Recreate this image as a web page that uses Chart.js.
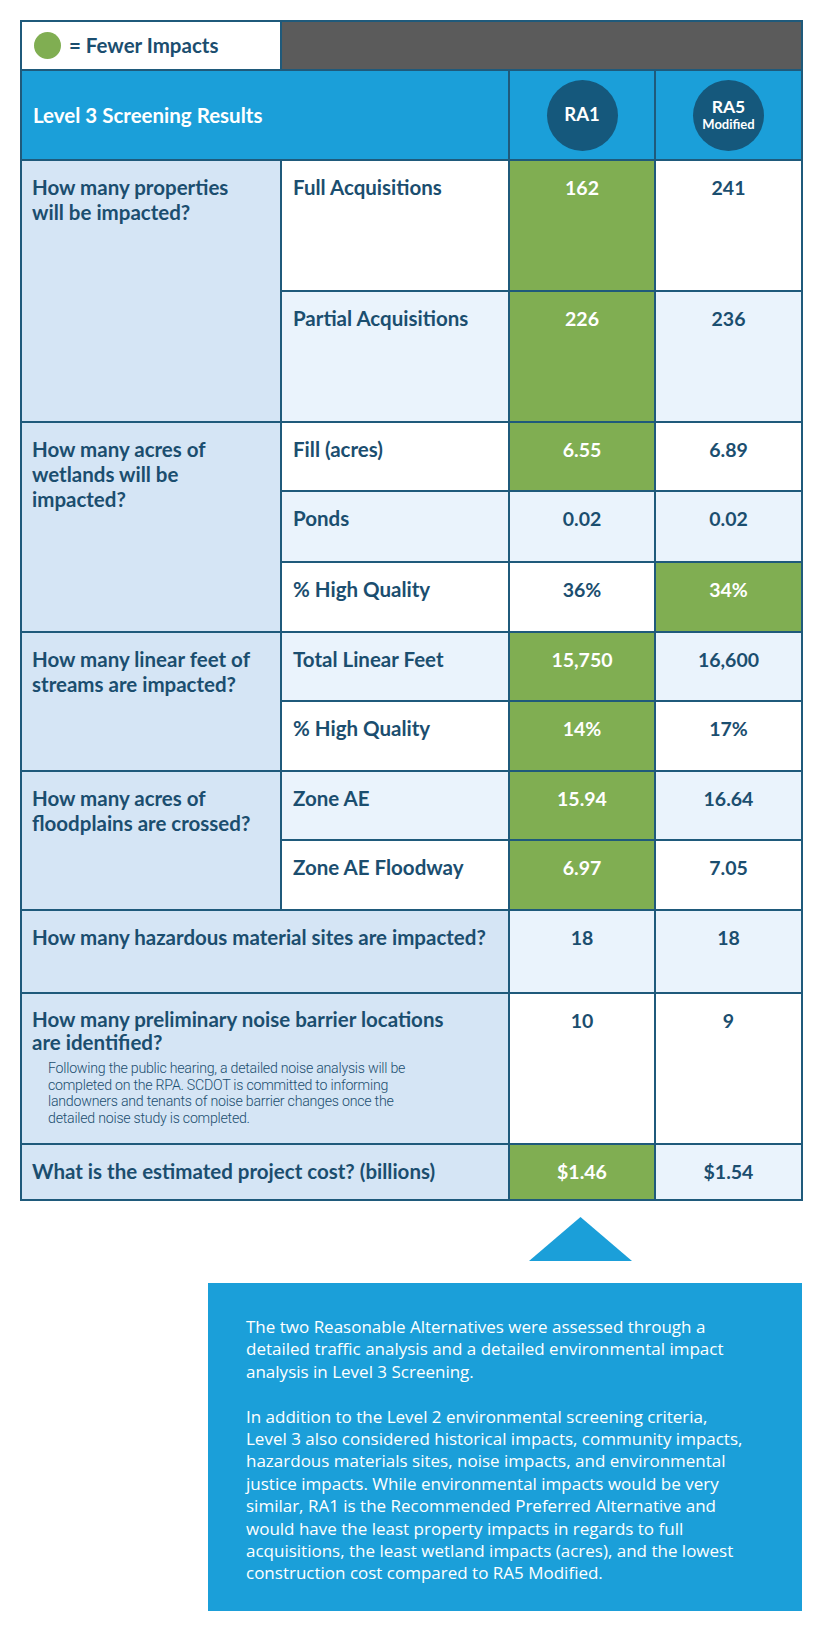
<!DOCTYPE html>
<html>
<head>
<meta charset="utf-8">
<script src="https://cdn.jsdelivr.net/npm/chart.js@4.4.1/dist/chart.umd.min.js"></script>
<style>
  html, body { margin: 0; padding: 0; background: #ffffff; }
  body { width: 821px; height: 1641px; position: relative; overflow: hidden; font-family: Lato, "Open Sans", sans-serif; color: #1b4e6f; }
  #grid {
    position: absolute; left: 20px; top: 20px; width: 783px;
    box-sizing: border-box; padding: 2px; background: #1f5a7b;
    display: grid; gap: 2px;
    grid-template-columns: 258px 226px 144px 145px;
    grid-template-rows: 47px 88px 129px 129px 67px 69px 68px 67px 68px 67px 68px 81px 149px 54px;
  }
  .cell { box-sizing: border-box; font-weight: 700; font-size: 20.5px; line-height: 25px; white-space: pre-line; }
  .q { background: #d5e5f5; padding: 14px 4px 0 10px; }
  .crit { padding: 14px 4px 0 11px; }
  .val { text-align: center; padding-top: 14px; font-size: 19.5px; }
  .w { background: #ffffff; }
  .l { background: #eaf3fc; }
  .g { background: #80ae52; color: #ffffff; }
  .note { font-family: Roboto, sans-serif; font-weight: 300; font-size: 14.2px; line-height: 16.7px; color: #1b4e6f; padding: 6px 0 0 16px; letter-spacing: -0.25px; white-space: pre-line; }
  .hdr { background: #1b9fd9; color: #fff; display: flex; align-items: center; justify-content: center; }
  .circle { width: 71px; height: 71px; border-radius: 50%; background: #15587c; color: #fff; display: flex; flex-direction: column; align-items: center; justify-content: center; line-height: 1.05; }
  #box { position: absolute; left: 208px; top: 1283px; width: 594px; height: 328px; background: #1b9fd9; color: #fff; box-sizing: border-box; padding: 33px 0 0 38px; font-family: "Open Sans", sans-serif; font-size: 17px; line-height: 22.4px; white-space: pre-line; }
  #box p { margin: 0 0 22.4px 0; }
  #tri { position: absolute; left: 529px; top: 1217px; width: 103px; height: 44px; }
</style>
</head>
<body>
<div id="grid"></div>
<canvas id="tri" width="103" height="44"></canvas>
<div id="box"></div>
<script>
// ---- data ----
const legendText = "= Fewer Impacts";
const tableTitle = "Level 3 Screening Results";
const alternatives = ["RA1", "RA5"];
const alternativeSubLabels = ["", "Modified"];
const questions = [
  "How many properties\nwill be impacted?",
  "How many acres of\nwetlands will be\nimpacted?",
  "How many linear feet of\nstreams are impacted?",
  "How many acres of\nfloodplains are crossed?",
  "How many hazardous material sites are impacted?",
  "How many preliminary noise barrier locations\nare identified?",
  "What is the estimated project cost? (billions)"
];
const questionNotes = ["", "", "", "", "",
  "Following the public hearing, a detailed noise analysis will be\ncompleted on the RPA. SCDOT is committed to informing\nlandowners and tenants of noise barrier changes once the\ndetailed noise study is completed.", ""];
const criteria = ["Full Acquisitions", "Partial Acquisitions", "Fill (acres)", "Ponds", "% High Quality",
  "Total Linear Feet", "% High Quality", "Zone AE", "Zone AE Floodway", "", "", ""];
const criterionQuestion = [0, 0, 1, 1, 1, 2, 2, 3, 3, 4, 5, 6];
const ra1Values = ["162", "226", "6.55", "0.02", "36%", "15,750", "14%", "15.94", "6.97", "18", "10", "$1.46"];
const ra5Values = ["241", "236", "6.89", "0.02", "34%", "16,600", "17%", "16.64", "7.05", "18", "9", "$1.54"];
const fewerImpacts = ["RA1", "RA1", "RA1", "", "RA5", "RA1", "RA1", "RA1", "RA1", "", "", "RA1"];
const summaryParagraphs = [
  "The two Reasonable Alternatives were assessed through a\ndetailed traffic analysis and a detailed environmental impact\nanalysis in Level 3 Screening.",
  "In addition to the Level 2 environmental screening criteria,\nLevel 3 also considered historical impacts, community impacts,\nhazardous materials sites, noise impacts, and environmental\njustice impacts. While environmental impacts would be very\nsimilar, RA1 is the Recommended Preferred Alternative  and\nwould have the least property impacts in regards to full\nacquisitions, the least wetland impacts (acres), and the lowest\nconstruction cost compared to RA5 Modified."
];
const pointerShape = [0, 1, 0];

// ---- build table ----
const grid = document.getElementById('grid');
function cell(cls, col, row, colSpan, rowSpan, text) {
  const d = document.createElement('div');
  d.className = 'cell ' + cls;
  d.style.gridColumn = col + ' / span ' + colSpan;
  d.style.gridRow = row + ' / span ' + rowSpan;
  if (text !== undefined) d.textContent = text;
  grid.appendChild(d);
  return d;
}
// legend row
const lg = cell('w', 1, 1, 1, 1);
lg.style.display = 'flex'; lg.style.alignItems = 'center'; lg.style.paddingLeft = '12px';
lg.innerHTML = '<span style="display:inline-block;width:27px;height:27px;border-radius:50%;background:#80ae52;margin-right:8px"></span>';
const lgt = document.createElement('span'); lgt.textContent = legendText; lg.appendChild(lgt);
const gray = cell('', 2, 1, 3, 1); gray.style.background = '#5b5b5b';
// header row
const h = cell('hdr', 1, 2, 2, 1, tableTitle); h.style.justifyContent = 'flex-start'; h.style.paddingLeft = '11px';
alternatives.forEach((a, i) => {
  const hc = cell('hdr', 3 + i, 2, 1, 1);
  const c = document.createElement('div'); c.className = 'circle';
  const t1 = document.createElement('div'); t1.textContent = a; t1.style.fontSize = alternativeSubLabels[i] ? '17.5px' : '18.5px';
  c.appendChild(t1);
  if (alternativeSubLabels[i]) { const t2 = document.createElement('div'); t2.textContent = alternativeSubLabels[i]; t2.style.fontSize = '13px'; t2.style.marginTop = '2px'; c.appendChild(t2); }
  hc.appendChild(c);
});
// body rows
const firstRow = 3;
questions.forEach((q, qi) => {
  const rows = criterionQuestion.map((v, i) => v === qi ? i : -1).filter(i => i >= 0);
  const start = firstRow + rows[0];
  const hasCrit = rows.some(r => criteria[r]);
  const qc = cell('q', 1, start, hasCrit ? 1 : 2, rows.length);
  const qt = document.createElement('div'); qt.textContent = q; qc.appendChild(qt);
  if (questionNotes[qi]) {
    qt.style.lineHeight = '23px';
    const n = document.createElement('div'); n.className = 'note'; n.textContent = questionNotes[qi]; qc.appendChild(n);
  }
});
criteria.forEach((c, i) => {
  const row = firstRow + i;
  let s = (i % 2 === 0) ? 'w' : 'l';
  if (i === 9) s = 'l'; if (i === 10) s = 'w'; if (i === 11) s = 'l';
  if (c) cell('crit ' + s, 2, row, 1, 1, c);
  cell('val ' + (fewerImpacts[i] === 'RA1' ? 'g' : s), 3, row, 1, 1, ra1Values[i]);
  cell('val ' + (fewerImpacts[i] === 'RA5' ? 'g' : s), 4, row, 1, 1, ra5Values[i]);
});
// summary box
const box = document.getElementById('box');
summaryParagraphs.forEach(p => { const e = document.createElement('p'); e.textContent = p; box.appendChild(e); });

// pointer triangle drawn by Chart.js
new Chart(document.getElementById('tri'), {
  type: 'line',
  data: { labels: ['a', 'b', 'c'], datasets: [{ data: pointerShape, fill: 'origin', backgroundColor: '#1b9fd9', borderWidth: 0, pointRadius: 0, tension: 0 }] },
  options: {
    responsive: false, animation: false, maintainAspectRatio: false,
    layout: { padding: 0 },
    plugins: { legend: { display: false }, tooltip: { enabled: false } },
    scales: { x: { display: false, offset: false }, y: { display: false, min: 0, max: 1 } }
  }
});
</script>
</body>
</html>
